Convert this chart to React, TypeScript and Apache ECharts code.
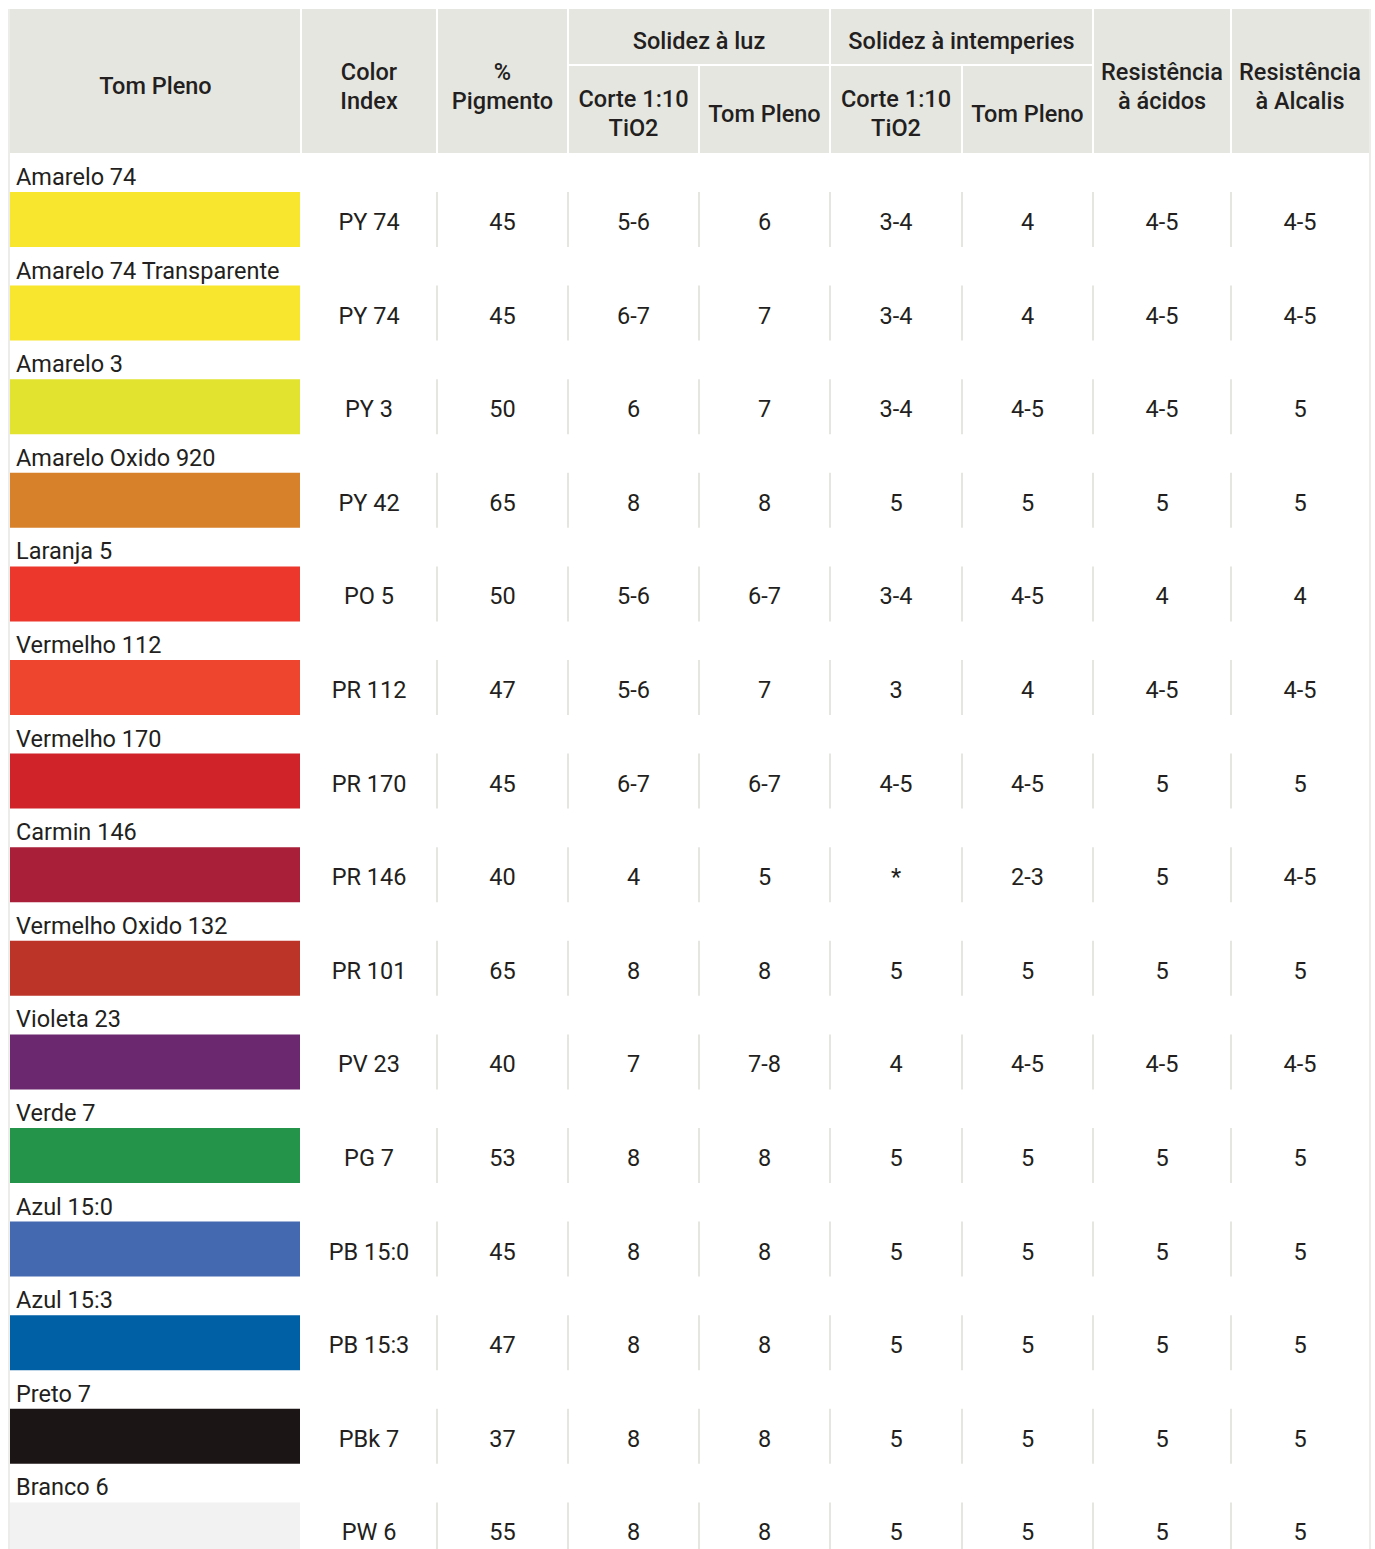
import React, { useEffect, useRef } from "react";
import * as echarts from "echarts";

// ---- data ----
const names = [
  "Amarelo 74",
  "Amarelo 74 Transparente",
  "Amarelo 3",
  "Amarelo Oxido 920",
  "Laranja 5",
  "Vermelho 112",
  "Vermelho 170",
  "Carmin 146",
  "Vermelho Oxido 132",
  "Violeta 23",
  "Verde 7",
  "Azul 15:0",
  "Azul 15:3",
  "Preto 7",
  "Branco 6",
];
const swatchColors = [
  "#f7e52e", "#f7e52e", "#e2e32f", "#d7812a", "#ec372c", "#ee462e", "#cf2229",
  "#a91e38", "#bc3327", "#6b286f", "#23944a", "#4569b0", "#0060a6", "#1c1515", "#f2f2f2",
];
const colorIndex = ["PY 74", "PY 74", "PY 3", "PY 42", "PO 5", "PR 112", "PR 170", "PR 146", "PR 101", "PV 23", "PG 7", "PB 15:0", "PB 15:3", "PBk 7", "PW 6"];
const pigment = ["45", "45", "50", "65", "50", "47", "45", "40", "65", "40", "53", "45", "47", "37", "55"];
const luzCorte = ["5-6", "6-7", "6", "8", "5-6", "5-6", "6-7", "4", "8", "7", "8", "8", "8", "8", "8"];
const luzPleno = ["6", "7", "7", "8", "6-7", "7", "6-7", "5", "8", "7-8", "8", "8", "8", "8", "8"];
const intCorte = ["3-4", "3-4", "3-4", "5", "3-4", "3", "4-5", "*", "5", "4", "5", "5", "5", "5", "5"];
const intPleno = ["4", "4", "4-5", "5", "4-5", "4", "4-5", "2-3", "5", "4-5", "5", "5", "5", "5", "5"];
const acidos = ["4-5", "4-5", "4-5", "5", "4", "4-5", "5", "5", "5", "4-5", "5", "5", "5", "5", "5"];
const alcalis = ["4-5", "4-5", "5", "5", "4", "4-5", "5", "4-5", "5", "4-5", "5", "5", "5", "5", "5"];

// ---- layout ----
const W = 1375;
const H = 1549;
const COL_EDGES = [10, 301, 437, 568, 699, 830, 962, 1093, 1231, 1369];
const HEADER_TOP = 9;
const HEADER_MID = 65;
const HEADER_BOTTOM = 153;
const ROW_H = 93.6;
const FONT = "Roboto, 'Noto Sans', sans-serif";
const TEXT = "#231f20";
const HEADER_BG = "#e6e6e1";
const SEP = "#e6e6e0";
const HEAD_FS = 23.5;
const DATA_FS = 23.5;

const headerCells: { text: string; x: number; y: number }[] = [
  { text: "Tom Pleno", x: (COL_EDGES[0] + COL_EDGES[1]) / 2, y: 86 },
  { text: "Color\nIndex", x: (COL_EDGES[1] + COL_EDGES[2]) / 2, y: 86 },
  { text: "%\nPigmento", x: (COL_EDGES[2] + COL_EDGES[3]) / 2, y: 86 },
  { text: "Solidez à luz", x: (COL_EDGES[3] + COL_EDGES[5]) / 2, y: 41 },
  { text: "Corte 1:10\nTiO2", x: (COL_EDGES[3] + COL_EDGES[4]) / 2, y: 113 },
  { text: "Tom Pleno", x: (COL_EDGES[4] + COL_EDGES[5]) / 2, y: 114 },
  { text: "Solidez à intemperies", x: (COL_EDGES[5] + COL_EDGES[7]) / 2, y: 41 },
  { text: "Corte 1:10\nTiO2", x: (COL_EDGES[5] + COL_EDGES[6]) / 2, y: 113 },
  { text: "Tom Pleno", x: (COL_EDGES[6] + COL_EDGES[7]) / 2, y: 114 },
  { text: "Resistência\nà ácidos", x: (COL_EDGES[7] + COL_EDGES[8]) / 2, y: 86 },
  { text: "Resistência\nà Alcalis", x: (COL_EDGES[8] + COL_EDGES[9]) / 2, y: 86 },
];

export default function App() {
  const ref = useRef<HTMLDivElement>(null);
  useEffect(() => {
    if (!ref.current) return;
    const chart = echarts.init(ref.current, undefined, { renderer: "svg" });

    const graphic: any[] = [];
    graphic.push({
      type: "rect",
      shape: { x: COL_EDGES[0], y: HEADER_TOP, width: COL_EDGES[9] - COL_EDGES[0], height: HEADER_BOTTOM - HEADER_TOP },
      style: { fill: HEADER_BG },
      z: 0,
    });
    // outer borders
    [COL_EDGES[0] - 1, COL_EDGES[9] + 1].forEach((x) =>
      graphic.push({
        type: "line",
        shape: { x1: x, y1: HEADER_TOP, x2: x, y2: H },
        style: { stroke: SEP, lineWidth: 1.5 },
        z: 1,
      })
    );
    // white header separators
    [1, 2, 3, 7, 8].forEach((k) =>
      graphic.push({
        type: "line",
        shape: { x1: COL_EDGES[k], y1: HEADER_TOP, x2: COL_EDGES[k], y2: HEADER_BOTTOM },
        style: { stroke: "#ffffff", lineWidth: 2 },
        z: 2,
      })
    );
    [4, 5, 6].forEach((k) =>
      graphic.push({
        type: "line",
        shape: {
          x1: COL_EDGES[k],
          y1: k === 5 ? HEADER_TOP : HEADER_MID,
          x2: COL_EDGES[k],
          y2: HEADER_BOTTOM,
        },
        style: { stroke: "#ffffff", lineWidth: 2 },
        z: 2,
      })
    );
    graphic.push({
      type: "line",
      shape: { x1: COL_EDGES[3], y1: HEADER_MID, x2: COL_EDGES[7], y2: HEADER_MID },
      style: { stroke: "#ffffff", lineWidth: 2 },
      z: 2,
    });
    headerCells.forEach((c) =>
      graphic.push({
        type: "text",
        x: c.x,
        y: c.y,
        style: {
          text: c.text,
          align: "center",
          verticalAlign: "middle",
          fontSize: HEAD_FS,
          fontWeight: 500,
          fontFamily: FONT,
          fill: TEXT,
          lineHeight: 29,
        },
        z: 3,
      })
    );

    const valueCols = [colorIndex, pigment, luzCorte, luzPleno, intCorte, intPleno, acidos, alcalis];
    const gridH = H - HEADER_BOTTOM;

    chart.setOption({
      animation: false,
      grid: { left: 0, top: HEADER_BOTTOM, width: W, height: gridH },
      xAxis: { type: "value", min: 0, max: W, show: false },
      yAxis: { type: "value", min: 0, max: gridH / ROW_H, inverse: true, show: false },
      graphic,
      series: [
        {
          type: "custom",
          encode: { x: 0, y: 1 },
          clip: false,
          data: names.map((_, i) => [0, i]),
          renderItem: (params: any, api: any) => {
            const i = api.value(1);
            const top = api.coord([0, i])[1];
            const px = (v: number) => api.coord([v, i])[0];
            const swTop = top + 39;
            const swH = 55;
            const children: any[] = [];
            children.push({
              type: "rect",
              shape: { x: px(COL_EDGES[0]), y: swTop, width: px(COL_EDGES[1] - 1) - px(COL_EDGES[0]), height: swH },
              style: { fill: swatchColors[i] },
            });
            children.push({
              type: "text",
              x: px(COL_EDGES[0]) + 6,
              y: top + 24,
              style: {
                text: names[i],
                align: "left",
                verticalAlign: "middle",
                fontSize: DATA_FS,
                fontFamily: FONT,
                fill: TEXT,
              },
            });
            for (let k = 2; k <= 8; k++) {
              children.push({
                type: "line",
                shape: { x1: px(COL_EDGES[k]), y1: swTop, x2: px(COL_EDGES[k]), y2: swTop + swH },
                style: { stroke: SEP, lineWidth: 2 },
              });
            }
            valueCols.forEach((col, k) => {
              children.push({
                type: "text",
                x: (px(COL_EDGES[k + 1]) + px(COL_EDGES[k + 2])) / 2,
                y: swTop + 30,
                style: {
                  text: col[i],
                  align: "center",
                  verticalAlign: "middle",
                  fontSize: DATA_FS,
                  fontFamily: FONT,
                  fill: TEXT,
                },
              });
            });
            return { type: "group", children };
          },
        },
      ],
    });
    return () => chart.dispose();
  }, []);
  return (
    <div
      ref={ref}
      style={{ position: "absolute", left: 0, top: 0, width: W, height: H, background: "#ffffff" }}
    />
  );
}
